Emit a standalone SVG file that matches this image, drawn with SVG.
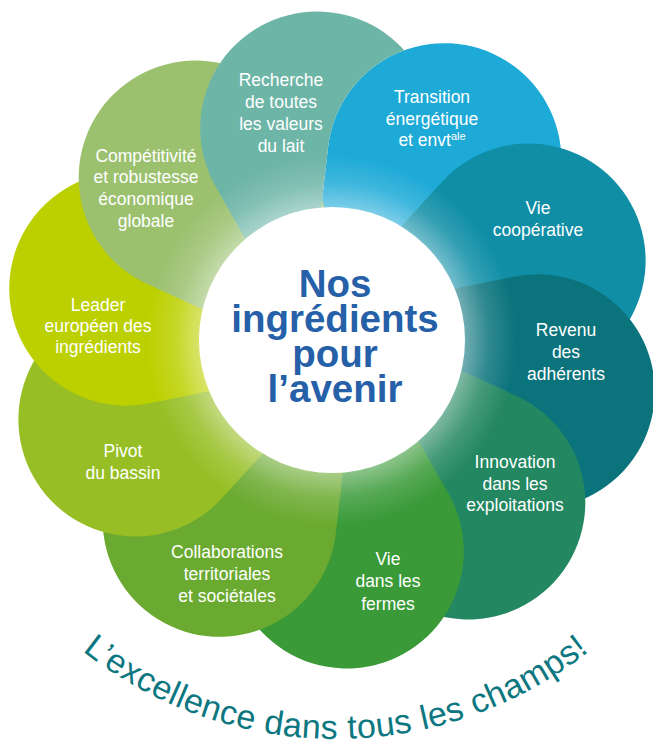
<svg xmlns="http://www.w3.org/2000/svg" xmlns:xlink="http://www.w3.org/1999/xlink" width="653" height="747" viewBox="0 0 653 747">
<defs>
<style>
.lbl{font-family:"Liberation Sans",Arial,sans-serif;font-size:17.5px;fill:#fff;text-anchor:middle}
.ctr{font-family:"Liberation Sans",Arial,sans-serif;font-size:38.5px;font-weight:700;fill:#2560A8;text-anchor:middle}
.motto{font-family:"Liberation Sans",Arial,sans-serif;font-size:34px;fill:#0C7780;letter-spacing:0.4px}
</style>
<path id="petal" d="M0,60 L-105.6,-161.7 A117,117 0 1 1 105.6,-161.7 Z"/>
<radialGradient id="halo" gradientUnits="userSpaceOnUse" cx="332" cy="340" r="185">
<stop offset="0.7" stop-color="#fff" stop-opacity="0.45"/>
<stop offset="0.85" stop-color="#fff" stop-opacity="0.15"/>
<stop offset="1" stop-color="#fff" stop-opacity="0"/>
</radialGradient>
<mask id="noTransition" maskUnits="userSpaceOnUse" x="0" y="0" width="653" height="747">
<rect width="653" height="747" fill="#fff"/>
<use xlink:href="#petal" href="#petal" transform="translate(332,340) rotate(32)" fill="#000"/>
</mask>
<path id="mottoArc" d="M1,564.6 A409,409 0 0 0 671,564.6"/>
</defs>

<g id="petal-transition">
<use xlink:href="#petal" href="#petal" transform="translate(332,340) rotate(32)" fill="#1DAAD7"/>
<text class="lbl"><tspan x="432" y="103">Transition</tspan><tspan x="432" y="124.5">énergétique</tspan></text>
<text class="lbl" x="432" y="146">et envt<tspan dy="-6" font-size="11">ale</tspan></text>
</g>
<g id="petal-vie-cooperative">
<use xlink:href="#petal" href="#petal" transform="translate(332,340) rotate(68)" fill="#0F8EA6"/>
<text class="lbl"><tspan x="538" y="214">Vie</tspan><tspan x="538" y="236">coopérative</tspan></text>
</g>
<g id="petal-revenu">
<use xlink:href="#petal" href="#petal" transform="translate(332,340) rotate(104)" fill="#0A737C"/>
<text class="lbl"><tspan x="566" y="336">Revenu</tspan><tspan x="566" y="358">des</tspan><tspan x="566" y="380">adhérents</tspan></text>
</g>
<g id="petal-innovation">
<use xlink:href="#petal" href="#petal" transform="translate(332,340) rotate(140)" fill="#238761"/>
<text class="lbl"><tspan x="515" y="468">Innovation</tspan><tspan x="515" y="490">dans les</tspan><tspan x="515" y="511">exploitations</tspan></text>
</g>
<g id="petal-vie-fermes">
<use xlink:href="#petal" href="#petal" transform="translate(332,340) rotate(176)" fill="#3A9A38"/>
<text class="lbl"><tspan x="388" y="565">Vie</tspan><tspan x="388" y="587">dans les</tspan><tspan x="388" y="610">fermes</tspan></text>
</g>
<g id="petal-collaborations">
<use xlink:href="#petal" href="#petal" transform="translate(332,340) rotate(212)" fill="#6BAA30"/>
<text class="lbl"><tspan x="227" y="558">Collaborations</tspan><tspan x="227" y="580">territoriales</tspan><tspan x="227" y="602">et sociétales</tspan></text>
</g>
<g id="petal-pivot">
<use xlink:href="#petal" href="#petal" transform="translate(332,340) rotate(248)" fill="#97BF25"/>
<text class="lbl"><tspan x="123" y="457">Pivot</tspan><tspan x="123" y="479">du bassin</tspan></text>
</g>
<g id="petal-leader">
<use xlink:href="#petal" href="#petal" transform="translate(332,340) rotate(284)" fill="#BCD000"/>
<text class="lbl"><tspan x="98" y="311">Leader</tspan><tspan x="98" y="332">européen des</tspan><tspan x="98" y="353">ingrédients</tspan></text>
</g>
<g id="petal-competitivite">
<use xlink:href="#petal" href="#petal" transform="translate(332,340) rotate(320)" fill="#9BC16F"/>
<text class="lbl"><tspan x="146" y="162">Compétitivité</tspan><tspan x="146" y="183">et robustesse</tspan><tspan x="146" y="205">économique</tspan><tspan x="146" y="227">globale</tspan></text>
</g>
<g id="petal-recherche">
<g mask="url(#noTransition)">
<use xlink:href="#petal" href="#petal" transform="translate(332,340) rotate(-4)" fill="#6DB5A7"/>
</g>
<text class="lbl"><tspan x="281" y="86">Recherche</tspan><tspan x="281" y="108">de toutes</tspan><tspan x="281" y="130">les valeurs</tspan><tspan x="281" y="152">du lait</tspan></text>
</g>

<circle cx="332" cy="340" r="185" fill="url(#halo)"/>

<g id="center">
<circle cx="332" cy="340" r="133" fill="#fff"/>
<text class="ctr"><tspan x="335" y="297">Nos</tspan><tspan x="335" y="332">ingrédients</tspan><tspan x="335" y="367">pour</tspan><tspan x="335" y="402">l’avenir</tspan></text>
</g>

<g id="motto">
<text class="motto"><textPath xlink:href="#mottoArc" href="#mottoArc" startOffset="50%" text-anchor="middle">L’excellence dans tous les champs!</textPath></text>
</g>
</svg>
